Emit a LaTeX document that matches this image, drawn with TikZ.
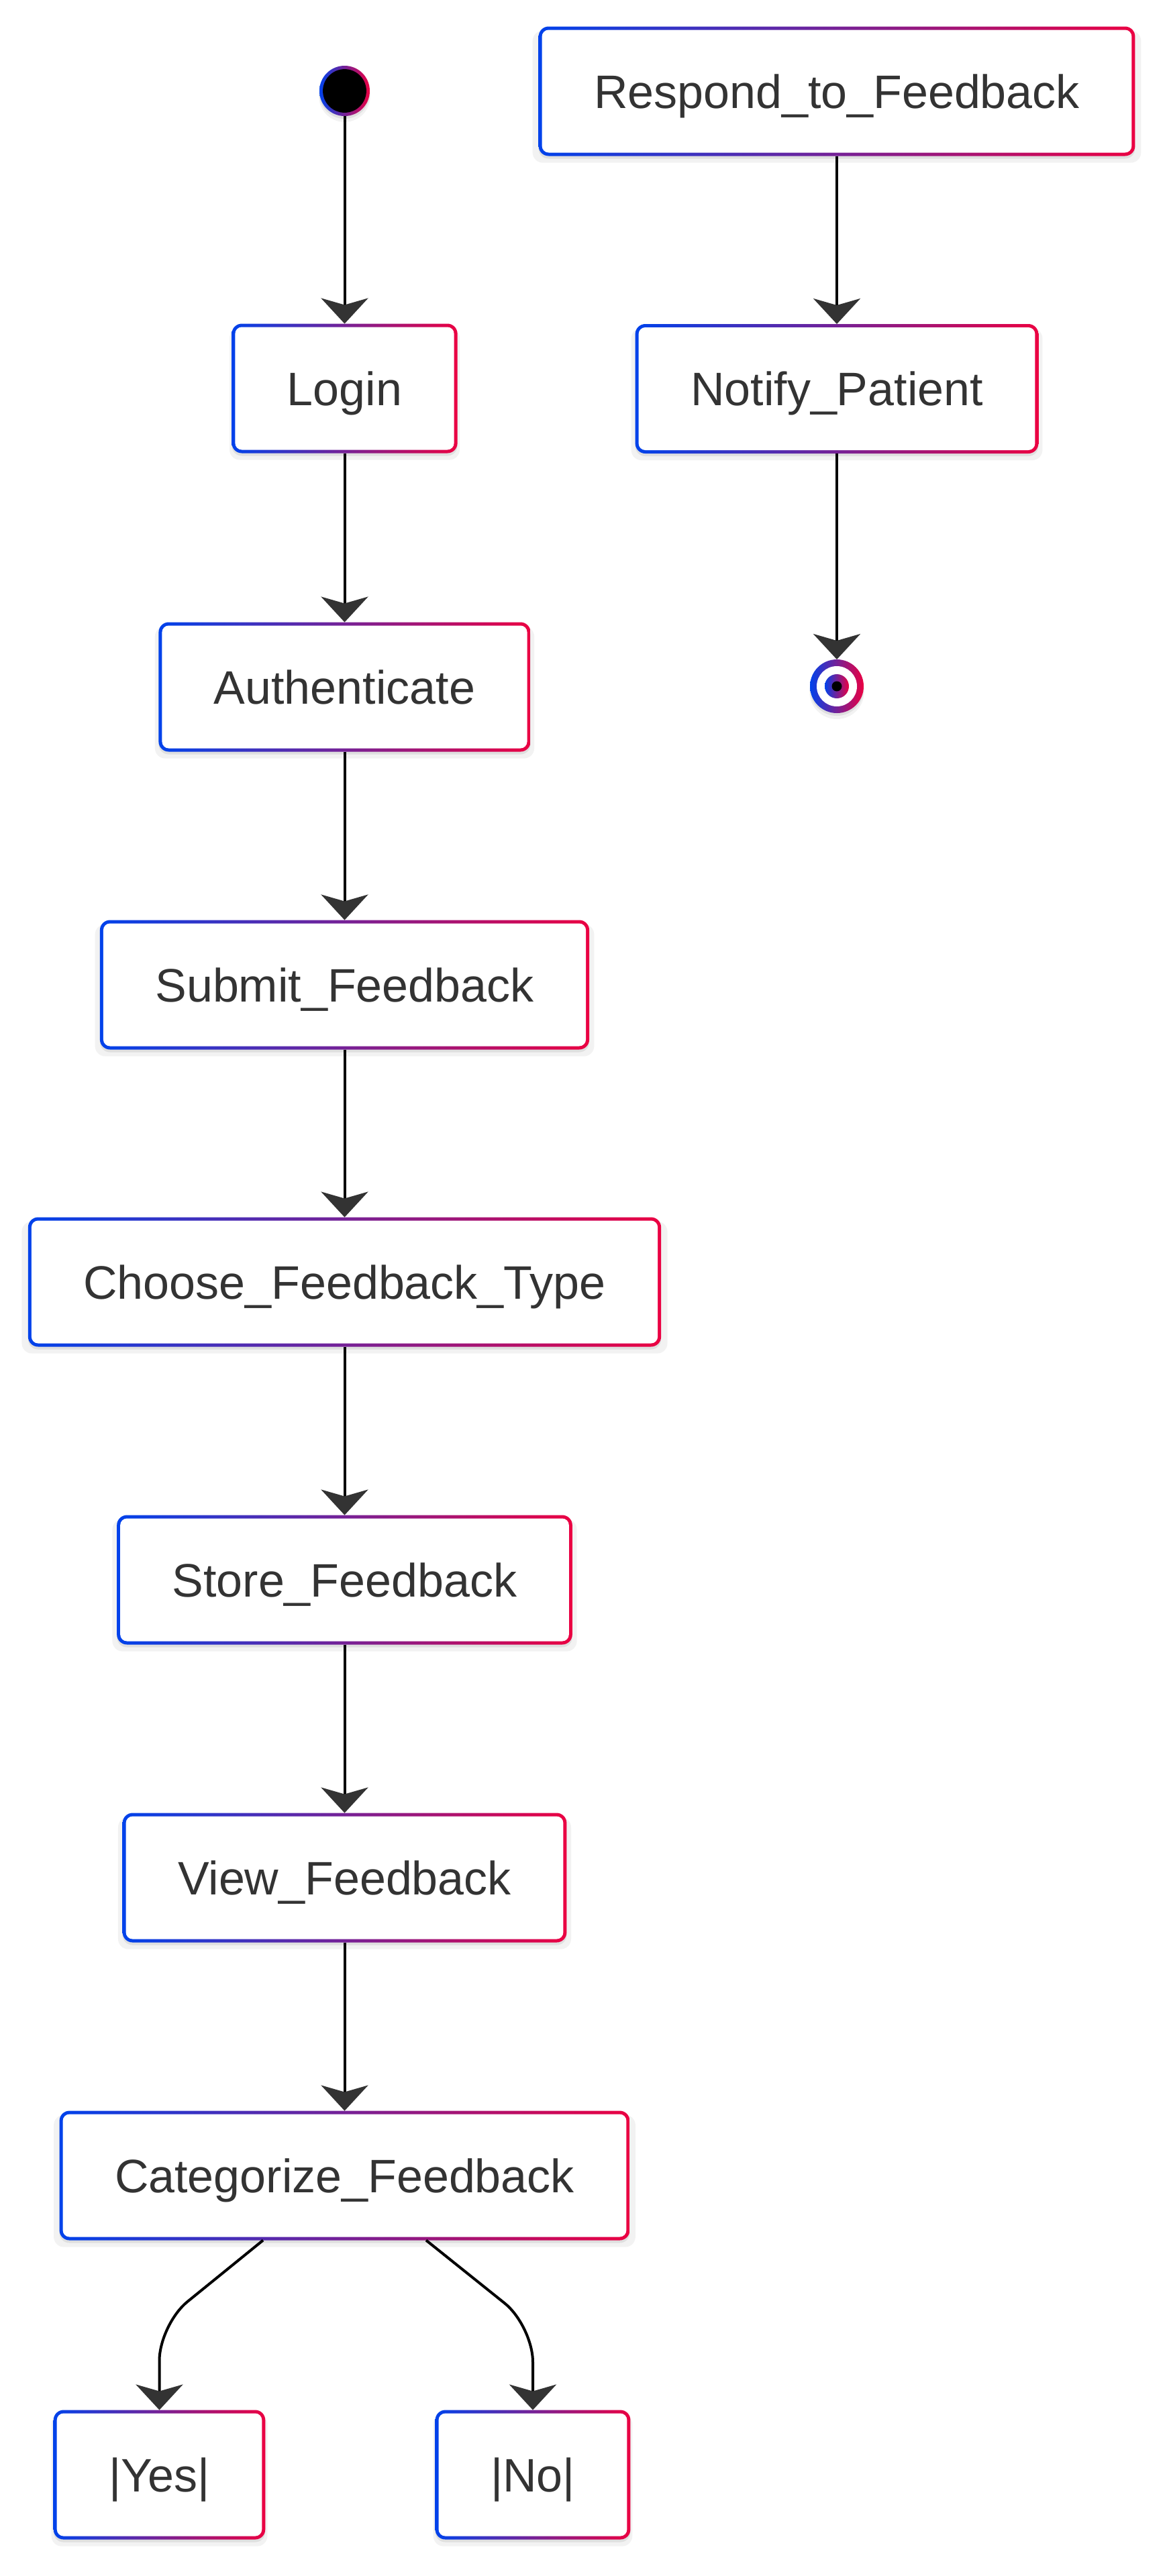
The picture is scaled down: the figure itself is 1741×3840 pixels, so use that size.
\documentclass[tikz,border=0pt]{standalone}
\usepackage{fontspec}
\setmainfont{Liberation Sans}
\usepackage{tikz}
\usetikzlibrary{arrows.meta, shadows}
\usepackage{xcolor}
\definecolor{gradstart}{HTML}{0042EB}
\definecolor{gradstop}{HTML}{EB0042}
\definecolor{textgray}{HTML}{333333}

\begin{document}
\begin{tikzpicture}[x=0.5pt, y=-0.5pt]
      \path[use as bounding box, fill=white] (0,0) rectangle (1741,3840);
      \tikzstyle{softshadow} = [drop shadow={shadow xshift=0pt, shadow yshift=-4pt, shadow scale=1.02, fill=black, opacity=0.05},
        drop shadow={shadow xshift=0pt, shadow yshift=-2pt, fill=black, opacity=0.08}]
      \tikzstyle{state} = [rectangle, rounded corners=7.5pt, left color=gradstart, right color=gradstop,
        minimum height=96.5pt, inner xsep=41.25pt, inner ysep=0pt, outer sep=0pt,
        text height=25pt, text depth=0pt, text=textgray, font=\fontsize{35pt}{42pt}\selectfont, softshadow,
        path picture={\fill[white, rounded corners=5pt] ([xshift=2.5pt, yshift=2.5pt]path picture bounding box.south west) rectangle ([xshift=-2.5pt, yshift=-2.5pt]path picture bounding box.north east);}]
      \tikzstyle{startdot} = [circle, minimum size=37.5pt, inner sep=0pt, outer sep=0pt, left color=gradstart, right color=gradstop, softshadow,
        path picture={\fill[black] (path picture bounding box.center) circle (16.2pt);}]
      \tikzstyle{enddot} = [circle, minimum size=40pt, inner sep=0pt, outer sep=0pt, left color=gradstart, right color=gradstop, softshadow,
        path picture={\fill[white] (path picture bounding box.center) circle (15pt);
          \shade[left color=gradstart, right color=gradstop] (path picture bounding box.center) circle (9pt);
          \fill[black] (path picture bounding box.center) circle (3.75pt);}]
      \tikzstyle{flow} = [line width=2pt, -{Stealth[length=19pt, width=35pt, inset=5pt, color=textgray]}]

      \node[startdot] (start) at (513.5,135.5) {};
      \foreach \name/\label/\y in {
        login/Login/579, auth/Authenticate/1024, submit/Submit\_Feedback/1468,
        choose/Choose\_Feedback\_Type/1911, store/Store\_Feedback/2355,
        view/View\_Feedback/2799, categorize/Categorize\_Feedback/3243} {
        \node[state] (\name) at (513.5,\y) {\label};
      }
      \node[state] (yes) at (237.5,3689) {|Yes|};
      \node[state] (no) at (794,3689) {|No|};

      \node[state] (respond) at (1247,136) {Respond\_to\_Feedback};
      \node[state] (notify) at (1247,579.5) {Notify\_Patient};
      \node[enddot] (finish) at (1247,1023) {};

      \foreach \a/\b in {
        start/login, login/auth, auth/submit, submit/choose, choose/store,
        store/view, view/categorize, respond/notify, notify/finish} {
        \draw[flow] (\a) -- (\b);
      }
      \coordinate (Y) at (237.5,3465);
      \coordinate (N) at (794,3467);
      \draw[flow, rounded corners=27pt] ([xshift=-60.75pt]categorize.south) -- (Y) -- (yes);
      \draw[flow, rounded corners=27pt] ([xshift=60.75pt]categorize.south) -- (N) -- (no);
    \end{tikzpicture}
\end{document}
